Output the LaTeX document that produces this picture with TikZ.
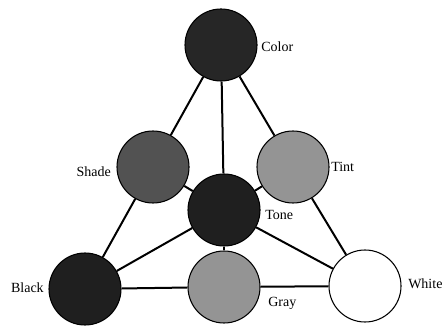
\documentclass[tikz,border=0pt]{standalone}
\usepackage{fontspec}
\setmainfont{Liberation Serif}
\begin{document}
\begin{tikzpicture}[x=0.75pt, y=-0.75pt,
    ball/.style={circle, draw=black, line width=0.8pt, minimum size=54pt, inner sep=0pt},
    lbl/.style={font=\fontsize{10.5}{12}\selectfont, inner sep=0pt},
    link/.style={line width=1.5pt}]
  \useasboundingbox (0,0) rectangle (445,327);
  \node[ball, fill=black!85] (color) at (221,45) {};
  \node[ball, fill=black!68] (shade) at (153,167) {};
  \node[ball, fill=black!42] (tint) at (293,167) {};
  \node[ball, fill=black!88] (tone) at (224,210) {};
  \node[ball, fill=black!88] (black) at (85,289) {};
  \node[ball, fill=black!42] (gray) at (224,287) {};
  \node[ball, fill=white] (white) at (365,286) {};
  \node[lbl, anchor=west] (lcolor) at (261,47) {Color};
  \node[lbl, anchor=east] (lshade) at (111,172) {Shade};
  \node[lbl, anchor=west] (ltint) at (331,167) {Tint};
  \node[lbl, anchor=west] (ltone) at (265,215) {Tone};
  \node[lbl, anchor=east] (lblack) at (44,288) {Black};
  \node[lbl, anchor=west] (lgray) at (268,303) {Gray};
  \node[lbl, anchor=west] (lwhite) at (408,284) {White};
  \draw[link] (color) -- (shade);
  \draw[link] (shade) -- (black);
  \draw[link] (color) -- (tint);
  \draw[link] (tint) -- (white);
  \draw[link] (black) -- (gray);
  \draw[link] (gray) -- (white);
  \draw[link] (color) -- (tone);
  \draw[link] (tone) -- (gray);
  \draw[link] (shade) -- (tone);
  \draw[link] (tone) -- (white);
  \draw[link] (tint) -- (tone);
  \draw[link] (tone) -- (black);
\end{tikzpicture}
\end{document}
